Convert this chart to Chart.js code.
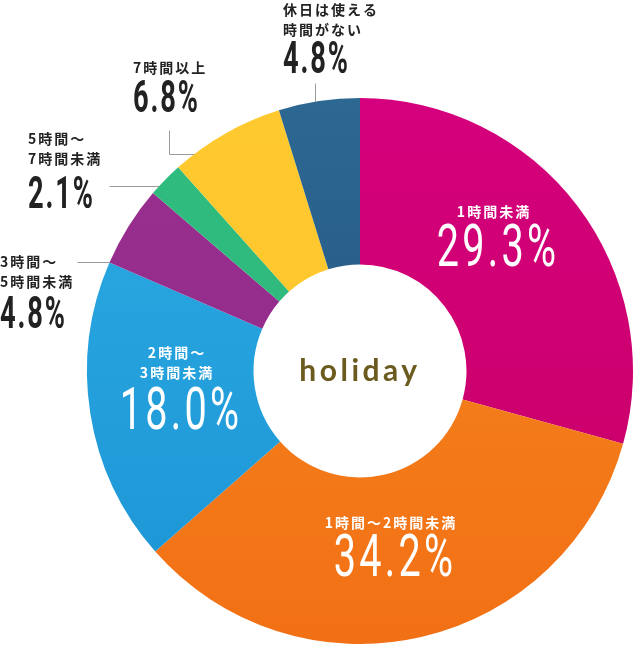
<!DOCTYPE html>
<html>
<head>
<meta charset="utf-8">
<script src="https://cdn.jsdelivr.net/npm/chart.js@4"></script>
<style>
  html, body { margin: 0; padding: 0; background: #fff; }
  #wrap { width: 634px; height: 646px; position: relative; }
</style>
</head>
<body>
<div id="wrap"><canvas id="pie"></canvas></div>
<script>
// Dữ liệu
const categories = ["1時間未満", "1時間〜2時間未満", "2時間〜3時間未満", "3時間〜5時間未満", "5時間〜7時間未満", "7時間以上", "休日は使える時間がない"];
const values = [29.3, 34.2, 18.0, 4.8, 2.1, 6.8, 4.8];
const labelLines = [["1時間未満"], ["1時間〜2時間未満"], ["2時間〜", "3時間未満"], ["3時間〜", "5時間未満"], ["5時間〜", "7時間未満"], ["7時間以上"], ["休日は使える", "時間がない"]];
const colorsTop = ["#d5007d", "#f58a1f", "#2cade3", "#9a2f90", "#30bd7f", "#fec92f", "#2c6892"];
const colorsBottom = ["#c70064", "#f27015", "#1c93d5", "#8d2a86", "#2fb47a", "#fdc42a", "#214f7c"];
const centerText = "holiday";

// vị trí nhãn (dx, dy tính từ tâm biểu đồ)
const labelLayout = [
  { inside: true, x: 134, y: -159, pctY: -120 },
  { inside: true, x: 31, y: 152, pctY: 190 },
  { inside: true, x: -183, y: -18, pctY: 43 },
  { inside: false, x: -360, y: -109, pctY: -54, line: { x: -283, y: -109, dir: "h" } },
  { inside: false, x: -332, y: -232, pctY: -174, line: { x: -251, y: -185, dir: "h" } },
  { inside: false, x: -227, y: -303, pctY: -270, line: { x: -191, y: -241, dir: "v", turnY: -217 } },
  { inside: false, x: -77, y: -361, pctY: -309, line: { x: -45, y: -288, dir: "v" } }
];

function pctFont(ctx, bold, size) {
  ctx.font = (bold ? "bold " : "") + size + "px Roboto";
}

const labelPlugin = {
  id: "labels",
  afterDraw(chart) {
    const ctx = chart.ctx;
    const arc = chart.getDatasetMeta(0).data[0];
    const cx = arc.x, cy = arc.y, R = arc.outerRadius;

    ctx.save();
    // chữ giữa
    ctx.fillStyle = "#6b5b1f";
    ctx.font = "bold 30px Lato";
    ctx.letterSpacing = "3.5px";
    ctx.textAlign = "center";
    ctx.textBaseline = "middle";
    ctx.fillText(centerText, cx, cy);
    ctx.restore();

    values.forEach((v, i) => {
      const L = labelLayout[i];
      const lines = labelLines[i];
      ctx.save();
      ctx.textBaseline = "middle";
      ctx.letterSpacing = "2px";
      ctx.font = "bold 14px 'Noto Sans CJK JP'";
      if (L.inside) {
        ctx.fillStyle = "#fff";
        ctx.textAlign = "center";
        lines.forEach((t, k) => ctx.fillText(t, cx + L.x, cy + L.y + k * 20));
        ctx.letterSpacing = "5px";
        pctFont(ctx, false, 60);
        ctx.translate(cx + L.x + 4, cy + L.pctY);
        ctx.scale(0.66, 1);
        ctx.fillText(v.toFixed(1) + "%", 0, 0);
      } else {
        ctx.fillStyle = "#222";
        ctx.textAlign = "left";
        lines.forEach((t, k) => ctx.fillText(t, cx + L.x, cy + L.y + k * 20));
        // đường dẫn
        const ln = L.line;
        ctx.strokeStyle = "#9a9a9a";
        ctx.lineWidth = 1;
        ctx.beginPath();
        ctx.moveTo(cx + ln.x + 0.5, cy + ln.y + 0.5);
        if (ln.dir === "h") {
          const ex = -Math.sqrt(R * R - ln.y * ln.y);
          ctx.lineTo(cx + ex, cy + ln.y + 0.5);
        } else if (ln.turnY !== undefined) {
          ctx.lineTo(cx + ln.x + 0.5, cy + ln.turnY + 0.5);
          const ex = -Math.sqrt(R * R - ln.turnY * ln.turnY);
          ctx.lineTo(cx + ex, cy + ln.turnY + 0.5);
        } else {
          const ey = -Math.sqrt(R * R - ln.x * ln.x);
          ctx.lineTo(cx + ln.x + 0.5, cy + ey);
        }
        ctx.stroke();
        ctx.letterSpacing = "3px";
        pctFont(ctx, true, 44);
        ctx.translate(cx + L.x, cy + L.pctY);
        ctx.scale(0.62, 1);
        ctx.fillText(v.toFixed(1) + "%", 0, 0);
      }
      ctx.restore();
    });
  }
};

function segColor(c) {
  const chart = c.chart;
  const area = chart.chartArea;
  if (!area) return colorsTop[c.dataIndex];
  const g = chart.ctx.createLinearGradient(0, area.top, 0, area.bottom);
  g.addColorStop(0, colorsTop[c.dataIndex]);
  g.addColorStop(1, colorsBottom[c.dataIndex]);
  return g;
}

new Chart(document.getElementById("pie"), {
  type: "doughnut",
  data: {
    labels: categories,
    datasets: [{
      data: values,
      backgroundColor: segColor,
      borderWidth: 0
    }]
  },
  options: {
    responsive: true,
    maintainAspectRatio: false,
    animation: false,
    cutout: "39%",
    layout: { padding: { left: 87, right: 1, top: 98, bottom: 2 } },
    plugins: {
      legend: { display: false },
      tooltip: { enabled: false }
    }
  },
  plugins: [labelPlugin]
});
</script>
</body>
</html>
